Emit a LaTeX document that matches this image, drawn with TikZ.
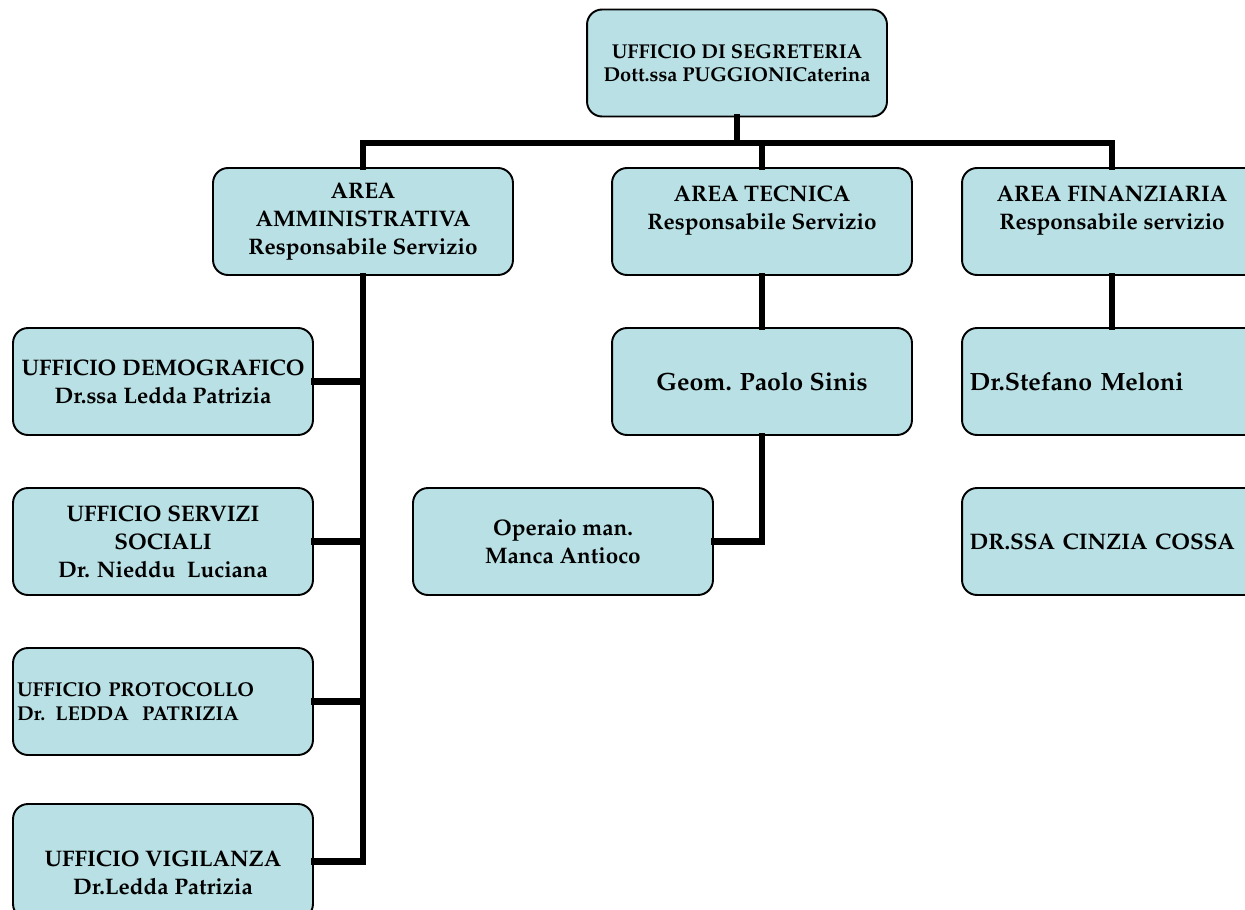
\documentclass[tikz,border=0pt]{standalone}
\usepackage[T1]{fontenc}
\usepackage{mathpazo}
\usepackage{tikz}
\usetikzlibrary{calc}
\usetikzlibrary{positioning}

\definecolor{boxfill}{RGB}{185,224,228}

\tikzset{
  office/.style={draw=black,line width=1.1pt,fill=boxfill,rounded corners=0.3cm,
    minimum width=6cm,minimum height=2.14cm,align=center,
    font=\fontsize{12.8}{15.8}\selectfont\bfseries},
  small/.style={font=\fontsize{11.4}{13.2}\selectfont\bfseries},
  big/.style={font=\fontsize{14.2}{16}\selectfont\bfseries},
  leftal/.style={text width=#1,align=left,inner xsep=0.05cm},
  conn/.style={line width=3.6pt,line cap=rect,line join=miter}
}

\begin{document}
\begin{tikzpicture}[x=0.02cm,y=-0.02cm]

\useasboundingbox (0,0) rectangle (1245,910);
\clip (0,0) rectangle (1245,910);

\coordinate (bar) at (0,143);

\node[office,small] (top) at (737,63) {UFFICIO DI SEGRETERIA\\Dott.ssa PUGGIONICaterina};

\node[office] (amm) at (363,221.5) {AREA\\AMMINISTRATIVA\\Responsabile Servizio};
\node[office] (tec) at (762,221.5) {AREA TECNICA\\Responsabile Servizio\\\mbox{}};
\node[office] (fin) at (1112,221.5) {AREA FINANZIARIA\\Responsabile servizio\\\mbox{}};

\node[office,big] (geom) at (762,381.5) {Geom. Paolo Sinis};
\node[office,big,leftal=5.7cm] (mel) at (1112,381.5) {Dr.Stefano Meloni};
\node[office,leftal=5.7cm,font=\fontsize{12.8}{15}\selectfont\bfseries] (cos) at (1112,541.5) {DR.SSA CINZIA COSSA};
\node[office] (ope) at (563,541.5) {Operaio man.\\Manca Antioco};

\node[office] (dem) at (163,381.5) {UFFICIO DEMOGRAFICO\\Dr.ssa Ledda Patrizia};
\node[office] (soc) at (163,541.5) {UFFICIO SERVIZI\\SOCIALI\\Dr. Nieddu\ \ Luciana};
\node[office,small,leftal=5.84cm] (pro) at (163,701.5) {UFFICIO PROTOCOLLO\\Dr. LEDDA\ \ PATRIZIA};
\node[office,minimum height=2.3cm] (vig) at (163,861.5) {};
\node[font=\fontsize{12.8}{15.8}\selectfont\bfseries,align=center] (vigtxt) at (163,873) {UFFICIO VIGILANZA\\Dr.Ledda Patrizia};

\begin{scope}[on background layer/.try]
\draw[conn] (top.south) -- (top.south |- bar);
\draw[conn] (amm.north) -- (amm.north |- bar) -- (fin.north |- bar) -- (fin.north);
\draw[conn] (tec.north) -- (tec.north |- bar);
\draw[conn] (tec.south) -- (geom.north);
\draw[conn] (geom.south) -- (geom.south |- ope.east) -- (ope.east);
\draw[conn] (fin.south) -- (mel.north);
\draw[conn] (amm.south) -- (amm.south |- vig.east) -- (vig.east);
\draw[conn] (dem.east) -- (dem.east -| amm.south);
\draw[conn] (soc.east) -- (soc.east -| amm.south);
\draw[conn] (pro.east) -- (pro.east -| amm.south);
\end{scope}

\end{tikzpicture}
\end{document}
